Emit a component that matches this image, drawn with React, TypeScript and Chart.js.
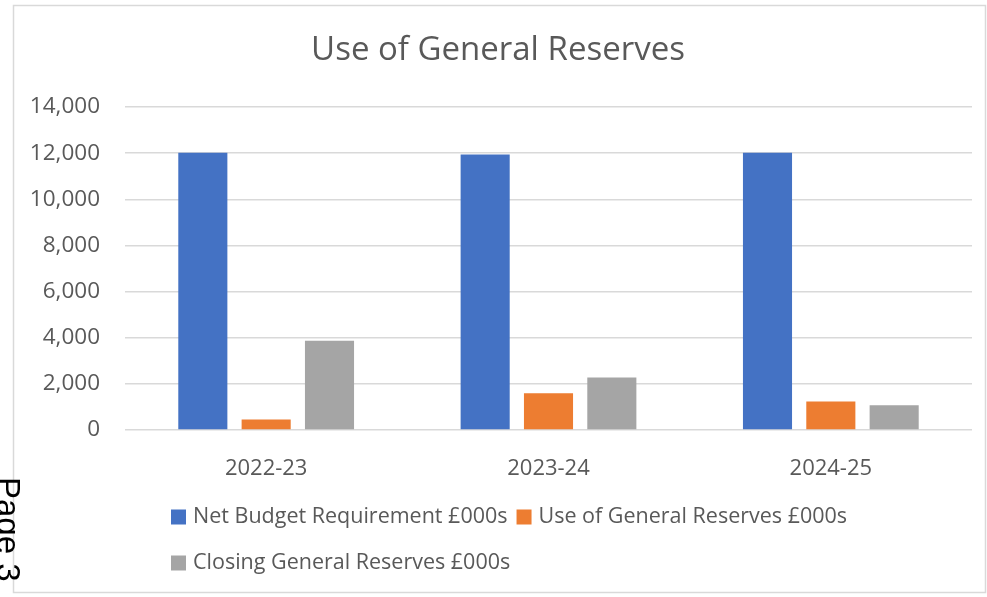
import React, { useEffect, useRef } from "react";
import { Chart, registerables } from "chart.js";

Chart.register(...registerables);

const categories = ["2022-23", "2023-24", "2024-25"];
const netBudget = [12020, 11940, 12020];
const useOfReserves = [450, 1590, 1240];
const closingReserves = [3870, 2280, 1070];
const seriesLabels = [
  "Net Budget Requirement £000s",
  "Use of General Reserves £000s",
  "Closing General Reserves £000s",
];
const seriesColors = ["#4472C4", "#ED7D31", "#A5A5A5"];
const yTicks = [0, 2000, 4000, 6000, 8000, 10000, 12000, 14000];
const titleText = "Use of General Reserves";
const pageText = "Page 3";

const FONT = "'Open Sans', 'DejaVu Sans', sans-serif";
const TEXT = "#595959";

const framePlugin = {
  id: "frame",
  beforeDraw(chart: any) {
    const ctx = chart.ctx;
    ctx.save();
    ctx.fillStyle = "#ffffff";
    ctx.fillRect(0, 0, chart.width, chart.height);
    ctx.strokeStyle = "#d9d9d9";
    ctx.lineWidth = 1.5;
    ctx.strokeRect(13.5, 5.5, 972, 587);
    ctx.restore();
  },
  afterDraw(chart: any) {
    const ctx = chart.ctx;
    ctx.save();
    // custom legend (two rows, left-aligned rows)
    ctx.font = `21.5px ${FONT}`;
    ctx.textBaseline = "middle";
    ctx.textAlign = "left";
    const rows = [
      { y: 517, items: [0, 1] },
      { y: 563, items: [2] },
    ];
    rows.forEach((row) => {
      let x = 171;
      row.items.forEach((i) => {
        const ds = chart.data.datasets[i];
        ctx.fillStyle = ds.backgroundColor;
        ctx.fillRect(x, row.y - 7.5, 15, 15);
        ctx.fillStyle = TEXT;
        ctx.fillText(ds.label, x + 22, row.y);
        x += 22 + ctx.measureText(ds.label).width + 9;
      });
    });
    // page marker, rotated
    ctx.translate(-3, 477);
    ctx.rotate(Math.PI / 2);
    ctx.font = `33px 'Liberation Sans', Arial, sans-serif`;
    ctx.fillStyle = "#000000";
    ctx.textBaseline = "alphabetic";
    ctx.fillText(pageText, 0, 0);
    ctx.restore();
  },
};

export default function App() {
  const ref = useRef<HTMLCanvasElement | null>(null);
  useEffect(() => {
    if (!ref.current) return;
    const chart = new Chart(ref.current, {
      type: "bar",
      data: {
        labels: categories,
        datasets: [
          { label: seriesLabels[0], data: netBudget, backgroundColor: seriesColors[0] },
          { label: seriesLabels[1], data: useOfReserves, backgroundColor: seriesColors[1] },
          { label: seriesLabels[2], data: closingReserves, backgroundColor: seriesColors[2] },
        ],
      },
      options: {
        animation: false,
        responsive: false,
        devicePixelRatio: 1,
        layout: { padding: { left: 24, right: 15, top: 0, bottom: 107 } },
        datasets: {
          bar: { categoryPercentage: 0.673, barPercentage: 0.775 },
        },
        plugins: {
          legend: { display: false },
          tooltip: { enabled: false },
          title: {
            display: true,
            text: titleText,
            color: TEXT,
            font: { family: FONT, size: 33, weight: "normal", lineHeight: 1.2 },
            padding: { top: 31, bottom: 36.4 },
          },
        },
        scales: {
          x: {
            grid: { display: false },
            border: { display: false },
            ticks: { color: TEXT, font: { family: FONT, size: 22 }, padding: 18 },
            afterFit: (s: any) => {
              s.height = 60;
            },
          },
          y: {
            min: 0,
            max: 14000,
            afterBuildTicks: (s: any) => {
              s.ticks = yTicks.map((v) => ({ value: v }));
            },
            grid: { color: "#d9d9d9", lineWidth: 1.5, drawTicks: false },
            border: { display: false },
            ticks: {
              color: TEXT,
              font: { family: FONT, size: 22.5 },
              padding: 25,
              callback: (v: any) => Number(v).toLocaleString("en-GB"),
            },
            afterFit: (s: any) => {
              s.width = 101;
            },
          },
        },
      },
      plugins: [framePlugin],
    });
    return () => chart.destroy();
  }, []);
  return (
    <div style={{ position: "absolute", left: 0, top: 0, width: 987, height: 597 }}>
      <canvas ref={ref} width={987} height={597} style={{ display: "block" }} />
    </div>
  );
}
